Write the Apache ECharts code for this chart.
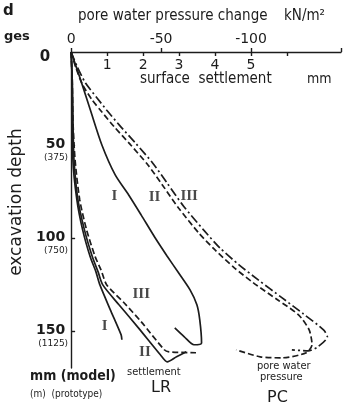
<!DOCTYPE html>
<html>
<head>
<meta charset="utf-8">
<script src="https://cdn.jsdelivr.net/npm/echarts@6/dist/echarts.min.js"></script>
<style>html,body{margin:0;padding:0;background:#fff}#c{width:355px;height:404px}</style>
</head>
<body>
<div id="c"></div>
<script>
// ---- data ----
// settlement curves LR: [surface settlement mm, excavation depth mm]
var lrI = [[0,0],[0.03,15],[0.04,36.6],[0.05,58.1],[0.16,79.6],[0.32,95.7],[0.53,110.2],[0.69,118.3],[0.8,125.3],[1.09,138.7],[1.39,152.2],[1.41,154.8]];
var lrII = [[0,0],[0.03,15],[0.05,36.6],[0.08,58.1],[0.19,79.6],[0.37,95.7],[0.59,110.2],[0.75,118.3],[0.88,125.3],[1.33,136],[1.87,148.4],[2.48,162.9],[2.67,166.7],[2.93,164],[3.2,161.3]];
var lrIII = [[0,0],[0.03,15],[0.05,36.6],[0.11,58.1],[0.24,79.6],[0.43,95.7],[0.67,110.2],[0.83,117.2],[0.99,125.3],[1.47,134.9],[1.95,145.2],[2.59,160.2],[2.72,161.3],[3.47,161.8]];
// pore water pressure curves PC: [pore pressure change kN/m2, excavation depth mm]
var pcI = [[0,0],[-5.3,15.1],[-10.7,31.2],[-17.1,50],[-24.5,66.1],[-32,76.9],[-38.9,87.6],[-46.4,99.5],[-53.3,109.7],[-59.7,118.8],[-66.1,128],[-69.9,136],[-71.5,144.1],[-72.5,156.5],[-68.3,157.5],[-62.9,153.2],[-57.6,148.4]];
var pcII = [[0,0],[-2.7,8.6],[-6.4,17.7],[-11.7,25.8],[-17.1,32.3],[-24,40.3],[-33.1,50],[-42.7,60.8],[-50.7,71.5],[-59.7,83.9],[-70.9,97.3],[-80,106.5],[-90.7,116.1],[-101.3,124.2],[-114.7,133.3],[-126.4,141.4],[-132.3,149.5],[-133.9,157.5],[-130.7,161.8],[-117.3,164.5],[-105.1,164],[-91.7,160.2]];
var pcIII = [[0,0],[-3.2,7.5],[-8,16.7],[-14.4,24.7],[-19.7,31.2],[-26.7,39.2],[-35.7,48.9],[-45.3,59.7],[-53.3,70.4],[-62.4,82.8],[-73.6,95.7],[-82.7,105.4],[-93.3,114.5],[-104,122.6],[-117.3,132.3],[-129.1,140.9],[-140.3,149.5],[-142.4,153.2],[-137.1,158.6],[-131.7,160.8],[-122.7,160.2]];
// curve labels [settlement mm, depth mm, text]
var curveLabels = [[1.2,77.4,'I'],[2.32,78,'II'],[3.28,77.4,'III'],[1.95,130.1,'III'],[0.93,147.3,'I'],[2.05,161.3,'II']];
// tick labels
var settlementTicks = [1,2,3,4,5,6];
var settlementLabels = [1,2,3,4,5];
var pressureTicks = [0,-50,-100,-150];
var pressureLabels = [0,-50,-100];
var depthTicks = [50,100,150];
var depthLabels = [0,50,100,150];
var prototypeFactor = 7.5; // model mm -> prototype mm

var INK = '#1c1c1c';
var FONT = 'DejaVu Sans';
var COND = '"DejaVu Sans Condensed"';
var chart = echarts.init(document.getElementById('c'), null, {renderer:'canvas'});

function lineSeries(data, axis, type){
  return {type:'line', data:data, xAxisIndex:axis, yAxisIndex:0, showSymbol:false, smooth:0.25,
    lineStyle:{color:INK, width:1.7, type:type}, silent:true, z:3};
}

chart.setOption({
  animation:false,
  backgroundColor:'#fff',
  grid:{left:59, right:14, top:52, bottom:36},
  xAxis:[
    {type:'value', position:'top', min:0, max:7.5,
     axisLine:{show:true, lineStyle:{color:INK, width:1.4}},
     axisTick:{show:true, inside:true, length:4, customValues:settlementTicks, lineStyle:{color:INK, width:1.4}},
     axisLabel:{show:true, inside:true, margin:6, customValues:settlementLabels, color:INK, fontFamily:FONT, fontSize:14},
     splitLine:{show:false}},
    {type:'value', position:'top', min:-150, max:0, interval:50, inverse:true,
     axisLine:{show:false},
     axisTick:{show:true, length:4, customValues:pressureTicks, lineStyle:{color:INK, width:1.4}},
     axisLabel:{show:true, margin:6, customValues:pressureLabels, color:INK, fontFamily:FONT, fontSize:14,
       formatter:function(v){return String(v);}},
     splitLine:{show:false}}
  ],
  yAxis:[{type:'value', min:0, max:170, inverse:true,
    name:'excavation depth', nameLocation:'middle', nameGap:29, nameRotate:90,
    nameTextStyle:{color:INK, fontFamily:FONT, fontSize:17, padding:[0,0,0,16]},
    axisLine:{show:true, lineStyle:{color:INK, width:1.4}},
    axisTick:{show:true, inside:true, length:4, customValues:depthTicks, lineStyle:{color:INK, width:1.4}},
    axisLabel:{show:true, margin:3, customValues:depthLabels, color:INK, fontFamily:FONT, align:'right',
      padding:[10,0,0,0],
      formatter:function(v){ if(v===0) return '{z|0}'; return '{a|'+v+'}\n{b|('+(v*prototypeFactor)+')}'; },
      rich:{z:{fontSize:15, fontWeight:'bold', color:INK, fontFamily:FONT, padding:[0,18,0,0]},
            a:{fontSize:14, fontWeight:'bold', color:INK, fontFamily:FONT, lineHeight:15, padding:[0,3,0,0]},
            b:{fontSize:9, color:INK, fontFamily:FONT, lineHeight:11}}},
    splitLine:{show:false}}],
  series:[
    lineSeries(lrI,0,'solid'),
    lineSeries(lrII,0,'solid'),
    lineSeries(lrIII,0,[6,3]),
    lineSeries(pcI,1,'solid'),
    lineSeries(pcII,1,[6,3]),
    lineSeries(pcIII,1,[9,3,2,3]),
    {type:'scatter', xAxisIndex:0, yAxisIndex:0, data:curveLabels, symbolSize:0, silent:true,
     label:{show:true, position:'inside', formatter:function(p){return p.data[2];},
       fontFamily:'Liberation Serif', fontWeight:'bold', fontSize:15, color:INK}}
  ],
  graphic:[
    {type:'text', left:3, top:4, style:{text:'d', font:'bold 15px "DejaVu Sans"', fill:INK}},
    {type:'text', left:4, top:30, style:{text:'ges', font:'bold 13px "DejaVu Sans"', fill:INK}},
    {type:'text', left:78, top:9, style:{text:'pore water pressure change', font:'15px '+COND, fill:INK}},
    {type:'text', left:284, top:9, style:{text:'kN/m²', font:'15px '+COND, fill:INK}},
    {type:'text', left:140, top:72, style:{text:'surface  settlement', font:'15px '+COND, fill:INK}},
    {type:'text', left:307, top:72, style:{text:'mm', font:'14px '+COND, fill:INK}},
    {type:'text', left:30, top:369, style:{text:'mm (model)', font:'bold 14px '+COND, fill:INK}},
    {type:'text', left:30, top:389, style:{text:'(m)  (prototype)', font:'10px '+COND, fill:INK}},
    {type:'text', left:127, top:367, style:{text:'settlement', font:'11px '+COND, fill:INK}},
    {type:'text', left:151, top:380, style:{text:'LR', font:'16px "DejaVu Sans"', fill:INK}},
    {type:'text', left:257, top:361, style:{text:'pore water', font:'11px '+COND, fill:INK}},
    {type:'text', left:260, top:372, style:{text:'pressure', font:'11px '+COND, fill:INK}},
    {type:'text', left:267, top:390, style:{text:'PC', font:'16px "DejaVu Sans"', fill:INK}}
  ]
});
</script>
</body>
</html>
